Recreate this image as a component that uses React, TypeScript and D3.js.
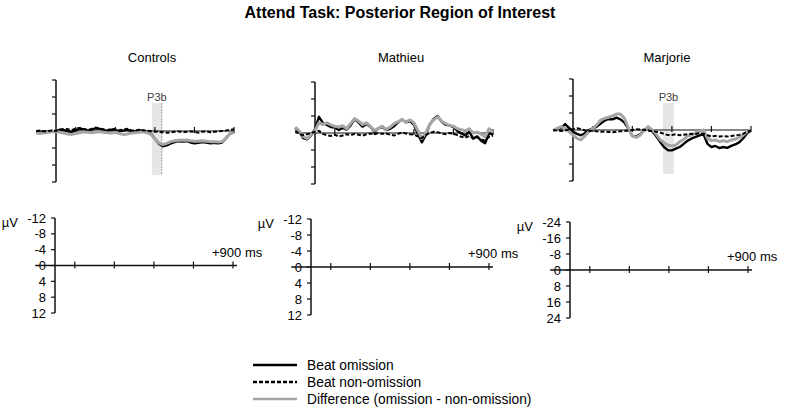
import * as d3 from 'd3';
import React, { useRef, useEffect } from 'react';

const W = 787;
const H = 410;

// sample times (ms), one value every 20 ms
const times = d3.range(-100, 901, 20);

const controlsOmission = [
  0.2, 0.3, 0.1, 0.2, 0.0, 0.1,
  -0.3, -0.2, 0.1, 0.3, -0.2, -0.5, -0.4, -0.1, -0.3, -0.6, -0.5, -0.2, 0.0, -0.3, -0.2, 0.1, -0.1, -0.3, 0.0, 0.1, -0.2, 0.0,
  0.2, 0.6, 1.8, 3.0, 3.6, 3.4, 2.9, 2.6, 2.4, 2.5, 2.4, 2.7, 2.9, 2.8, 2.6, 2.7, 2.9, 2.8, 2.9, 2.7, 1.7, 0.6, 0.2,
];
const controlsNonOmission = [
  0.0, -0.1, 0.1, 0.0, -0.1, 0.0,
  -0.3, -0.5, -0.4, -0.2, -0.6, -0.7, -0.5, -0.3, -0.5, -0.8, -0.6, -0.4, -0.2, -0.5, -0.4, -0.2, -0.3, -0.5, -0.2, -0.1, -0.3, -0.2,
  -0.1, 0.0, 0.1, 0.2, 0.3, 0.4, 0.3, 0.2, 0.1, 0.3, 0.2, 0.1, 0.2, 0.4, 0.2, 0.1, 0.3, 0.2, 0.1, 0.0, -0.1, -0.3, -0.4,
];
const controlsDifference = [
  0.5, 0.6, 0.4, 0.3, 0.2, 0.1,
  0.3, 0.5, 0.7, 0.8, 0.6, 0.4, 0.2, 0.3, 0.4, 0.3, 0.2, 0.3, 0.4, 0.5, 0.3, 0.6, 0.8, 0.7, 0.5, 0.4, 0.3, 0.2,
  0.4, 0.8, 1.8, 2.8, 3.2, 2.9, 2.5, 2.3, 2.2, 2.2, 2.1, 2.3, 2.4, 2.4, 2.3, 2.4, 2.5, 2.5, 2.6, 2.5, 1.6, 0.6, 0.4,
];

const mathieuOmission = [
  -1.2, -0.3, 1.2, 1.5, 0.6, -0.9, -3.8, -2.4, -1.9, -1.4,
  -1.3, -0.7, -1.2, -0.8, -1.8, -3.2, -2.5, -1.5, -2.1, -1.5,
  -0.3, -1.1, -1.4, -0.7, -1.0, -1.6, -2.5, -3.2, -2.5, -2.8,
  -2.0, 0.2, 2.2, 0.5, -2.0, -3.3, -4.0, -2.7, -1.9, -1.8,
  -1.4, -0.5, 0.1, 0.6, -0.3, 1.3, 0.8, 1.8, 2.4, 0.0, 0.4,
];
const mathieuNonOmission = [
  -0.5, 0.2, 0.5, 0.3, 0.0, -0.3, -0.5, 0.2, 0.5, 0.7,
  0.4, 0.8, 0.6, 0.3, 0.5, 0.2, 0.4, 0.6, 0.3, 0.1,
  0.3, 0.0, 0.2, 0.1, 0.4, 0.6, 0.2, -0.1, 0.1, 0.3,
  0.4, 0.8, 1.2, 0.5, 0.0, -0.3, -0.2, 0.1, 0.3, 0.0,
  0.2, 0.5, 0.9, 1.1, 0.7, 1.3, 1.0, 1.5, 1.8, 0.9, 0.6,
];
const mathieuDifference = [
  -1.4, -0.5, 0.8, 1.3, 0.5, -0.6, -2.4, -2.0, -2.4, -1.9,
  -1.6, -1.4, -1.7, -1.0, -2.2, -3.4, -2.8, -2.0, -2.4, -1.6,
  -0.6, -1.1, -1.6, -0.8, -1.4, -2.2, -2.7, -3.1, -2.6, -3.1,
  -2.4, -0.6, 1.3, 0.0, -2.0, -3.1, -3.8, -2.8, -2.2, -1.8,
  -1.6, -1.0, -0.8, -0.5, -1.0, 0.0, -0.2, 0.3, 0.9, -1.0, -0.2,
];

const marjorieOmission = [
  0.3, -0.5, -0.8, -2.8, -1.0, 0.8, 1.8, 2.5, 1.5, 0.0,
  -0.8, -1.6, -3.0, -4.4, -5.2, -5.0, -5.8, -5.0, -3.5, -0.5,
  2.8, 3.0, 2.0, 0.0, -1.2, 0.6, 2.8, 5.5, 8.0, 9.5,
  9.6, 8.8, 8.0, 6.5, 5.0, 4.0, 3.2, 2.5, 2.0, 6.5,
  8.0, 7.5, 8.5, 8.0, 8.4, 7.5, 6.8, 5.8, 4.0, 1.5, 0.3,
];
const marjorieNonOmission = [
  0.0, 0.3, 0.5, 0.2, -0.3, -0.5, -0.8, -0.5, 0.2, 0.5,
  0.3, 0.6, 0.8, 0.7, 0.9, 1.0, 0.8, 0.6, 0.5, 0.2,
  0.0, -0.3, -0.2, -0.1, 0.3, 0.5, 0.8, 1.2, 1.8, 2.4,
  2.3, 2.0, 2.5, 2.2, 2.0, 1.8, 1.9, 1.5, 1.8, 2.5,
  3.0, 2.8, 3.0, 2.9, 3.1, 2.8, 2.5, 2.3, 1.8, 0.8, 0.2,
];
const marjorieDifference = [
  0.3, -0.8, -1.6, -0.8, 0.8, 2.4, 3.9, 4.7, 2.8, 0.8,
  -0.8, -2.4, -4.7, -5.5, -6.0, -6.6, -7.5, -7.5, -5.5, -0.8,
  2.8, 3.5, 2.4, 0.3, -1.6, 0.0, 1.9, 4.4, 6.0, 7.1,
  7.5, 7.1, 5.5, 4.4, 2.8, 2.4, 1.3, 0.8, 0.0, 3.9,
  5.0, 4.7, 5.5, 5.0, 5.5, 4.7, 4.4, 3.5, 2.4, 0.8, 0.0,
];

const panelNames = ['Controls', 'Mathieu', 'Marjorie'];
const omission = [controlsOmission, mathieuOmission, marjorieOmission];
const nonOmission = [controlsNonOmission, mathieuNonOmission, marjorieNonOmission];
const difference = [controlsDifference, mathieuDifference, marjorieDifference];
const amplitudeTicks = [
  [-12, -8, -4, 0, 4, 8, 12],
  [-12, -8, -4, 0, 4, 8, 12],
  [-24, -16, -8, 0, 8, 16, 24],
];
const timeTicks = [100, 300, 500, 700, 900];
// P3b window (ms) and the µV extent of the shaded band
const p3bWindows = [[485, 535], null, [455, 510]];
const p3bExtent = [[-6.6, 10.4], null, [-12.7, 20.7]];
const legendLabels = ['Beat omission', 'Beat non-omission', 'Difference (omission - non-omission)'];

const layout = [
  { upperX: 56, upperTop: 80, upperBottom: 182, lowerX: 55, lowerTop: 218, lowerBottom: 313, titleX: 152 },
  { upperX: 315, upperTop: 82, upperBottom: 184, lowerX: 311, lowerTop: 219, lowerBottom: 315, titleX: 401 },
  { upperX: 573, upperTop: 79, upperBottom: 181, lowerX: 570, lowerTop: 222, lowerBottom: 318, titleX: 667 },
];
const msWidth = 178; // px for 900 ms

const font = 'Liberation Sans, Arial, sans-serif';
const grey = '#a6a6a6';

function App() {
  const ref = useRef(null);

  useEffect(() => {
    const svg = d3.select(ref.current);
    svg.selectAll('*').remove();

    svg
      .append('text')
      .attr('x', 400)
      .attr('y', 18)
      .attr('text-anchor', 'middle')
      .attr('font-family', font)
      .attr('font-size', 16)
      .attr('font-weight', 'bold')
      .text('Attend Task: Posterior Region of Interest');

    panelNames.forEach((name, i) => {
      const L = layout[i];
      const ticks = amplitudeTicks[i];
      const maxV = ticks[ticks.length - 1];

      svg
        .append('text')
        .attr('x', L.titleX)
        .attr('y', 62)
        .attr('text-anchor', 'middle')
        .attr('font-family', font)
        .attr('font-size', 13)
        .text(name);

      // ---- upper panel: waveforms
      const x = d3.scaleLinear().domain([0, 900]).range([L.upperX, L.upperX + msWidth]);
      const y = d3.scaleLinear().domain([-maxV, maxV]).range([L.upperTop, L.upperBottom]);
      const g = svg.append('g');

      if (p3bWindows[i]) {
        const [t0, t1] = p3bWindows[i];
        const [v0, v1] = p3bExtent[i];
        g.append('rect')
          .attr('x', x(t0))
          .attr('y', y(v0))
          .attr('width', x(t1) - x(t0))
          .attr('height', y(v1) - y(v0))
          .attr('fill', '#e6e6e6');
        if (i === 0) {
          g.append('line')
            .attr('x1', x(t1))
            .attr('x2', x(t1))
            .attr('y1', y(v0))
            .attr('y2', y(v1))
            .attr('stroke', '#888')
            .attr('stroke-width', 0.8)
            .attr('stroke-dasharray', '2,1');
        }
        g.append('text')
          .attr('x', x((t0 + t1) / 2))
          .attr('y', y(v0) - 2)
          .attr('text-anchor', 'middle')
          .attr('font-family', font)
          .attr('font-size', 11)
          .attr('fill', '#404040')
          .text('P3b');
      }

      // axes
      g.append('line')
        .attr('x1', x(0))
        .attr('x2', x(0))
        .attr('y1', y(-maxV))
        .attr('y2', y(maxV))
        .attr('stroke', '#111')
        .attr('stroke-width', 1.5);
      g.selectAll('.yt')
        .data(ticks)
        .join('line')
        .attr('x1', x(0) - 4)
        .attr('x2', x(0))
        .attr('y1', (d) => y(d))
        .attr('y2', (d) => y(d))
        .attr('stroke', '#111')
        .attr('stroke-width', 1.2);
      g.append('line')
        .attr('x1', x(-100))
        .attr('x2', x(900))
        .attr('y1', y(0))
        .attr('y2', y(0))
        .attr('stroke', '#111')
        .attr('stroke-width', 1.2);
      g.selectAll('.xt')
        .data(timeTicks)
        .join('line')
        .attr('x1', (d) => x(d))
        .attr('x2', (d) => x(d))
        .attr('y1', y(0) - 4)
        .attr('y2', y(0) + 2)
        .attr('stroke', '#111')
        .attr('stroke-width', 1.2);

      const line = d3
        .line()
        .x((d, k) => x(times[k]))
        .y((d) => y(d));

      g.append('path')
        .datum(omission[i])
        .attr('d', line)
        .attr('fill', 'none')
        .attr('stroke', '#000')
        .attr('stroke-width', 2.4)
        .attr('stroke-linejoin', 'round');
      g.append('path')
        .datum(difference[i])
        .attr('d', line)
        .attr('fill', 'none')
        .attr('stroke', grey)
        .attr('stroke-width', 3)
        .attr('stroke-linejoin', 'round');
      g.append('path')
        .datum(nonOmission[i])
        .attr('d', line)
        .attr('fill', 'none')
        .attr('stroke', '#000')
        .attr('stroke-width', 2)
        .attr('stroke-dasharray', '4,2');

      // ---- lower panel: labelled scale
      const xl = d3.scaleLinear().domain([0, 900]).range([L.lowerX, L.lowerX + msWidth]);
      const yl = d3.scaleLinear().domain([-maxV, maxV]).range([L.lowerTop, L.lowerBottom]);
      const gl = svg.append('g').attr('font-family', font).attr('font-size', 13);

      gl.append('line')
        .attr('x1', xl(0))
        .attr('x2', xl(0))
        .attr('y1', yl(-maxV))
        .attr('y2', yl(maxV))
        .attr('stroke', '#111')
        .attr('stroke-width', 1.5);
      gl.selectAll('.ylt')
        .data(ticks)
        .join('line')
        .attr('x1', xl(0) - 4)
        .attr('x2', xl(0))
        .attr('y1', (d) => yl(d))
        .attr('y2', (d) => yl(d))
        .attr('stroke', '#111')
        .attr('stroke-width', 1.2);
      gl.selectAll('.yll')
        .data(ticks)
        .join('text')
        .attr('x', xl(0) - 9)
        .attr('y', (d) => yl(d) + 4.5)
        .attr('text-anchor', 'end')
        .text((d) => d);
      gl.append('text')
        .attr('x', xl(0) - 37)
        .attr('y', yl(-maxV) + 9)
        .attr('text-anchor', 'end')
        .text('µV');
      gl.append('line')
        .attr('x1', xl(-100))
        .attr('x2', xl(920))
        .attr('y1', yl(0))
        .attr('y2', yl(0))
        .attr('stroke', '#111')
        .attr('stroke-width', 1.5);
      gl.selectAll('.xlt')
        .data(timeTicks)
        .join('line')
        .attr('x1', (d) => xl(d))
        .attr('x2', (d) => xl(d))
        .attr('y1', yl(0) - 4)
        .attr('y2', yl(0) + 3)
        .attr('stroke', '#111')
        .attr('stroke-width', 1.2);
      gl.append('text')
        .attr('x', xl(900) - 21)
        .attr('y', yl(0) - 9)
        .text('+900 ms');
    });

    // legend
    const legend = svg.append('g').attr('font-family', font).attr('font-size', 13.8);
    const styles = [
      { stroke: '#000', width: 2.4, dash: null },
      { stroke: '#000', width: 2.4, dash: '4,2' },
      { stroke: grey, width: 2.4, dash: null },
    ];
    legendLabels.forEach((label, k) => {
      const ly = 365 + k * 17;
      const s = styles[k];
      legend
        .append('line')
        .attr('x1', 253)
        .attr('x2', 297)
        .attr('y1', ly)
        .attr('y2', ly)
        .attr('stroke', s.stroke)
        .attr('stroke-width', s.width)
        .attr('stroke-dasharray', s.dash);
      legend
        .append('text')
        .attr('x', 307)
        .attr('y', ly + 4.5)
        .text(label);
    });
  }, []);

  return (
    <svg
      ref={ref}
      width={W}
      height={H}
      style={{ position: 'absolute', left: 0, top: 0, background: '#fff' }}
    />
  );
}

export default App;
